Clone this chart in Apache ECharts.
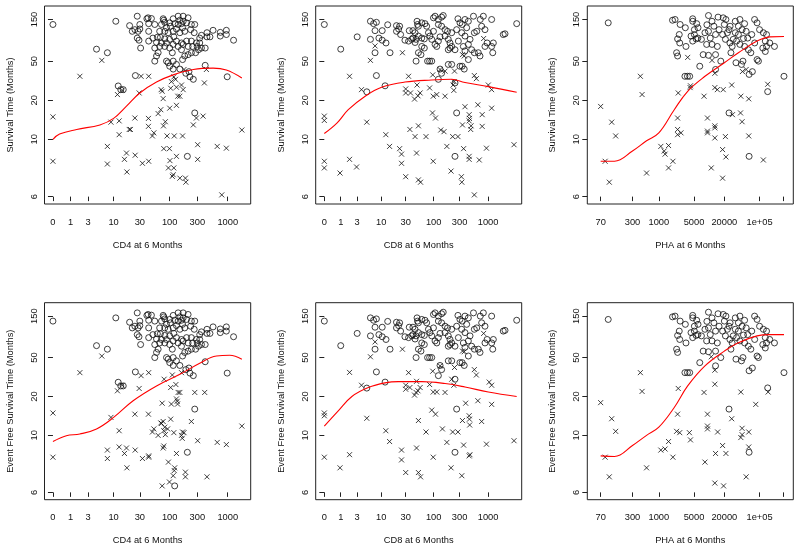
<!DOCTYPE html>
<html>
<head>
<meta charset="utf-8">
<script src="https://cdn.jsdelivr.net/npm/echarts@6/dist/echarts.min.js"></script>
<style>
  html, body { margin: 0; padding: 0; background: #fff; }
  #chart { width: 800px; height: 548px; }
</style>
</head>
<body>
<div id="chart"></div>
<script>
// tick labels
const countTicks = [0, 1, 3, 10, 30, 100, 300, 1000];
const phaTicks = [70, 300, 1000, 5000, 20000, 100000, 300000];
const phaTickLabels = ['70', '300', '1000', '5000', '20000', '1e+05', ''];
const timeTicks = [6, 10, 20, 50, 150];

// CD4 at 6 months vs survival: o = censored, x = died
const cd4Alive = [[40,153],[42,157],[48,154],[27,164],[77,153],[79,147],[115,153],[140,164],[171,164],[208,157],[150,147],[171,143],
  [30,131],[43,134],[55,131],[72,131],[82,139],[100,137],[122,134],[140,131],[160,134],[196,137],[237,131],[271,131],[167,120],[131,116],[103,125],[88,120],[19.7,127],[22,109],[30,116],
  [24.5,114],[28,109],[43,109],[67,109],[82,109],[94,105],[115,109],[150,105],[182,109],[230,114],[265,105],[353,98],[440,105],[560,112],[745,106],[948,112],[745,96],[948,100],[1260,86],[440,94],[495,94],[330,91],
  [27,91],[29,86],[43,84],[51,91],[61,93],[69,93],[82,89],[100,88],[118,94],[131,84],[160,80],[196,84],[237,84],[289,80],[330,80],[59,81],[72,80],[88,80],
  [31,70],[55,70],[67,73],[82,73],[100,70],[115,77],[140,73],[171,77],[208,73],[249,73],[299,73],[353,70],[410,70],[314,67],[280,62],[237,62],[160,67],[182,57],[208,59],[167,52],[63,62],[59,57],[111,62],
  [55,50],[88,50],[94,48],[100,44],[115,50],[131,46],[150,41],[115,41],[190,37],[215,38.5],[410,45],[4.6,68],[7.6,62],
  [12.2,27.4],[13.6,25.2],[15.1,25.2],[25,35],[224,34],[256,32],[271,15.5],[202,8.1],[980,34],[0,131],[11,143]];
const cd4Dead = [[0,14.4],[0,7.7],[5.9,51],[1.9,34.4],[7.6,9.1],[7.6,7.5],[11.8,22.6],[14.4,24.8],[8.9,13.1],[12.7,13.4],[12.7,10.7],[19.4,11.6],[20.4,11.6],[17.3,8.4],[15.9,7.85],[17.6,7.0],
  [24.5,14.1],[24.8,8.2],[29.2,23.4],[31.6,34.4],[43,34.4],[33.4,7.55],[43,7.7],[42.6,14],[42.6,12.2],[50,10.5],[53,11],[63,15.3],[70,16.5],[74,24.3],[71,25.2],[77,20.7],[78,12.3],[84,13.2],[79,8.85],
  [90,10.5],[95,7.24],[99,8.85],[101,7.75],[100,17],[104,26],[107,30.3],[111,6.77],[115,6.85],[118,7.24],[120,10.5],[131,8.1],[118,33.9],[131,26.6],[138,21.8],[150,21.8],[131,18],[126,32],[160,28],[171,25.2],
  [177,40.6],[150,6.68],[167,10.5],[187,6.68],[190,6.5],[256,12.5],[289,14.1],[304,9.3],[304,7.85],[377,14.6],[397,29.4],[430,40.6],[660,9.1],[790,6.05],[948,8.9],[1750,11.5]];
const cd4DeadCurve = [[0,10],[0.3,10.8],[1.55,11.6],[5.4,12.5],[10,14],[17.3,17.7],[30,23.4],[59,30],[115,35.6],[256,40.6],[560,42],[948,40],[1750,33]];

// CD8 at 6 months vs survival
const cd8Alive = [[0,131],[1,68],[3,94],[6,143],[8,139],[7,134],[7.5,111],[6,88],[9,91],[10.5,111],[10.5,86],[12.5,80],[13.5,130],[7.5,62],[15,62],[8,35],[12,27.5],[5,24],
  [20,127],[23,125],[22,116],[20,109],[24,100],[29,86],[34,84],[39,88],[35,111],[41,111],[45,105],[49,143],[50,131],[52,125],[60,137],[69,134],[74,125],
  [47,88],[52,96],[60,91],[67,89],[41,91],[45,81],[52,62],[58,59],[60,73],[67,70],[47,50],[77,50],[84,50],[92,50],
  [80,105],[85,96],[92,88],[99,109],[106,77],[114,73],[122,84],[131,94],[99,157],[106,164],[122,150],[140,160],[150,167],
  [122,131],[140,125],[162,114],[180,109],[162,96],[186,88],[200,80],[215,105],[131,41],[140,37],[122,32],[186,46],[215,46],
  [186,67],[200,70],[215,73],[247,67],[280,153],[305,137],[335,131],[377,150],[435,143],[405,120],[265,114],[328,105],[377,96],[467,88],
  [285,84],[352,73],[435,77],[500,67],[305,44],[335,44],[365,41],[247,29.4],[265,15.5],[247,8.1],[435,52],[377,65],
  [540,164],[560,105],[620,109],[560,62],[663,62],[712,57],[820,164],[878,114],[960,80],[878,73],[1164,73],[1250,80],[1220,62],[1900,100],[2046,102],[3350,134],[720,150],[1164,150],[763,125]];
const cd8Dead = [[0,14.6],[0,13.5],[0,7.7],[0,7.24],[0.94,6.94],[1.9,7.85],[2.9,7.3],[1.9,34.4],[3.8,25.2],[5,13.1],[6,51],[7.5,74],[12.4,10.7],[14.7,9.1],[23,8.85],[25,8.3],[25,7.55],[30,6.75],
  [26,62],[34,34.4],[30,25.6],[30,23.4],[36,11.6],[37,23.4],[44,20.5],[45,10.4],[48,8.4],[49,28],[51,22],[52,12.3],[52,6.6],[57,6.5],[56,23.4],[72,10.4],[84,26.2],[95,15.5],[98,7.7],[96,35.6],[98,21.8],
  [108,14.1],[114,22.6],[131,40.6],[162,39],[135,11.5],[155,11.2],[175,9.1],[162,21.8],[209,7.05],[224,10.4],[228,28],[235,24.8],[238,30.3],[242,39],[280,10.4],[324,6.75],[330,6.5],[339,12.5],[356,8.85],
  [377,17.5],[339,59],[365,57],[450,15],[455,14],[450,13.4],[480,11.6],[488,12.3],[450,8.1],[450,7.85],[560,6.05],[560,35],[610,32.5],[650,18.2],[690,7.8],[780,15],[780,12.2],[830,90],[935,8.9],
  [1011,28],[1164,25.2],[1164,17],[2992,9.3]];
const cd8DeadCurve = [[0,10.9],[0.7,12.9],[1.75,16.5],[4.6,21.8],[10.2,26.6],[29,30],[92,31.5],[215,32],[377,29.7],[1011,27],[3350,23.8]];

// PHA at 6 months vs survival
const phaAlive = [[99,137],[1870,147],[2100,150],[2650,131],[2545,100],[2360,89],[2600,80],[2254,62],[2360,57],[3360,120],[3460,73],[4710,153],[4710,143],[5080,114],[5650,134],
  [4360,96],[5080,100],[5970,91],[7010,88],[4710,84],[5510,89],[9680,167],[11380,143],[12400,125],[8240,105],[9680,109],[10500,91],[13370,100],[8900,77],[11380,77],[14500,73],
  [6500,44],[7600,59],[9680,58],[13370,59],[13370,40.6],[17000,50],[15000,160],[19000,157],[21480,150],[20000,131],[15700,114],[18450,100],[23000,105],[24770,114],
  [21000,88],[25800,80],[28570,73],[27000,62],[32950,143],[38000,125],[40700,150],[50470,134],[54200,109],[32950,105],[38000,100],[45000,114],[58210,91],
  [34000,48],[43750,46],[46800,50],[40700,77],[50470,73],[60000,67],[67140,62],[62000,36],[72000,38.5],[89190,52],[95000,50],
  [79700,150],[89190,137],[100000,114],[119000,105],[137600,100],[130000,84],[137600,73],[159200,80],[197700,73],[116000,70],[130000,64],
  [145000,24.1],[305500,34.4],[62000,8.1],[24770,15.5],[3300,34.4],[3700,34.4],[4100,34.4],
  [30000,88],[26000,125],[35000,84],[48000,90],[70000,100],[80000,80],[9000,130],[6000,120]];
const phaDead = [[70,17.6],[86,7.7],[116,13.1],[139,10.5],[104,6.5],[430,34.4],[465,22.6],[571,6.94],[1096,9.1],[1278,8.6],[1330,8.3],[1560,9.2],[1560,7.24],[1905,7.7],
  [2360,14.1],[2360,11.6],[2360,10.7],[2754,11],[2430,23.4],[3740,55],[4180,26.4],[4250,27.5],[7900,21.8],[9250,14.1],[9250,11.3],[9250,11],[11000,7.24],[11380,51],
  [12950,37],[12950,26.4],[14500,25.2],[12950,11.9],[12950,12.3],[12950,10.2],[18450,8.75],[18450,6.68],[21000,10.4],[21480,8.05],[19000,25.2],[28000,28],
  [42500,21.8],[41900,15.5],[45000,13.2],[45700,38.6],[54200,40.6],[61000,20.6],[61000,10.5],[119000,7.8],[145000,28.5],[29000,15]];
const phaDeadCurve = [[70,7.7],[132,7.7],[300,8.6],[571,9.8],[1000,11],[2025,16.5],[3740,24.3],[8240,34.4],[20000,48],[38000,62],[89190,84],[159200,94],[305500,95]];

// event free survival: censored points are shared with the survival panels, plus
const cd4EfsAliveExtra = [[122,6.2]];
const cd4EfsEvent = [[0,14.4],[0,7.7],[5.9,52],[1.9,34.4],[7.6,8.3],[7.6,7.6],[11.8,22.6],[14.4,25.6],[8.9,13.3],[12.7,10.7],[12.7,8.6],[17.3,8.5],[15.9,8],[17.6,7.0],[24.5,14.1],[24.8,8.3],
  [29.2,23.8],[31.6,32],[43,34.4],[33.4,7.6],[43,7.8],[43,7.7],[42.6,14.1],[50,10.5],[53,11],[63,10],[70,12.1],[74,17.4],[77,12.4],[80,29.4],[72,12],[82,11.3],[79,10.7],[84,10.1],[79,8.7],[77,8.5],
  [92,11],[95,7.35],[99,6.34],[74,6.2],[104,12.9],[107,17.1],[104,24.3],[111,32.5],[118,10.4],[131,8],[120,6.85],[115,6.6],[122,7],[128,26],[131,19],[135,18.1],[140,21.8],[150,21.8],[137,17.1],
  [160,10],[167,10.5],[165,9.6],[177,10.4],[160,34.4],[187,6.77],[187,6.55],[237,12.4],[271,21.8],[304,9.3],[402,21.8],[440,6.55],[660,9.1],[948,8.85],[1750,11.5]];
const cd4EfsCurve = [[0,9.2],[0.7,9.95],[1.9,10.2],[4.6,11],[10,13.3],[22.8,18.3],[59,25.2],[150,33],[330,43.4],[640,52],[1082,53],[1750,48]];

const cd8EfsEvent = [[0,14.4],[0,13.7],[0,7.7],[0.94,7.0],[1.9,7.9],[1.9,34.6],[3.8,25.6],[5,13.1],[6,51],[7.5,75],[12.4,10.7],[14.7,9.2],[25,8.3],[25,7.5],[30,6.75],[26,62],[34,34.4],
  [30,25.6],[30,23.4],[36,24.3],[44,20.6],[47,21.8],[51,22.6],[48,8.5],[52,12.6],[52,6.75],[57,6.55],[48,28],[56,24.3],[72,10.5],[84,26],[92,15.2],[98,7.7],[96,35.6],[98,22],[108,14.1],[114,22],
  [131,40.6],[145,11],[175,9.1],[162,21.8],[209,7],[224,10.5],[242,39],[215,29.4],[235,25.6],[280,10.5],[330,6.6],[339,12.6],[356,8.8],[388,17.4],[339,59],[365,58],[450,13.7],[455,12.9],
  [450,7.8],[465,7.9],[460,11.7],[560,37],[610,32.5],[650,18.3],[763,12.4],[935,8.9],[1050,27.5],[1164,25.6],[1164,17],[2992,9.3],[830,94]];
const cd8EfsCurve = [[0,11.5],[0.8,15],[2.2,20],[5.4,24.3],[11.9,27],[21.7,27.8],[60,27.8],[162,26.6],[377,24.6],[1011,22],[3350,20]];

const phaEfsEvent = [[70,17.6],[86,7.7],[116,13],[139,10.6],[104,6.55],[430,34.4],[465,22.3],[571,7],[1096,8.3],[1330,8.4],[1560,9.2],[1905,7.7],[2360,14.1],[2254,10.6],[2600,10.4],
  [4040,10.4],[4250,9.4],[2430,23.8],[7900,21.8],[8240,7.35],[9250,14.1],[9250,11.5],[9250,11],[11000,51],[12950,36.5],[12950,26.2],[13370,8],[12950,6.3],[14700,10.5],[18450,8.75],
  [19300,6.2],[21480,8],[28000,13],[42500,22],[45000,11.1],[45000,10.1],[42500,9.7],[54200,6.55],[61000,10.5],[61000,8.6],[84000,17],[148000,22]];
const phaEfsCurve = [[70,7.8],[132,7.75],[300,8.75],[571,10],[1000,11.3],[2025,16],[3740,25.2],[8240,40.6],[20000,59],[38000,73.5],[89190,88],[159200,91],[305500,91]];

// transforms used by the original plot
const logCount = v => Math.log10(v + 1);
const logPha = v => Math.log10(v);
const logTime = t => Math.log10(t - 5);

const FONT = 'Liberation Sans';
const cols = [
  { left: 44.5, width: 206.2, xMin: -0.145, xMax: 3.395 },
  { left: 315.7, width: 206, xMin: -0.158, xMax: 3.617 },
  { left: 587.3, width: 206, xMin: 1.58, xMax: 5.67 }
];
const rows = [{ top: 6, height: 198 }, { top: 302.7, height: 197 }];

const panels = [
  { r: 0, c: 0, xf: logCount, ticks: countTicks, labels: countTicks.map(String), xName: 'CD4 at 6 Months', yName: 'Survival Time (Months)', o: cd4Alive, x: cd4Dead, curve: cd4DeadCurve },
  { r: 0, c: 1, xf: logCount, ticks: countTicks, labels: countTicks.map(String), xName: 'CD8 at 6 Months', yName: 'Survival Time (Months)', o: cd8Alive, x: cd8Dead, curve: cd8DeadCurve },
  { r: 0, c: 2, xf: logPha, ticks: phaTicks, labels: phaTickLabels, xName: 'PHA at 6 Months', yName: 'Survival Time (Months)', o: phaAlive, x: phaDead, curve: phaDeadCurve },
  { r: 1, c: 0, xf: logCount, ticks: countTicks, labels: countTicks.map(String), xName: 'CD4 at 6 Months', yName: 'Event Free Survival Time (Months)', o: cd4Alive.concat(cd4EfsAliveExtra), x: cd4EfsEvent, curve: cd4EfsCurve },
  { r: 1, c: 1, xf: logCount, ticks: countTicks, labels: countTicks.map(String), xName: 'CD8 at 6 Months', yName: 'Event Free Survival Time (Months)', o: cd8Alive, x: cd8EfsEvent, curve: cd8EfsCurve },
  { r: 1, c: 2, xf: logPha, ticks: phaTicks, labels: phaTickLabels, xName: 'PHA at 6 Months', yName: 'Event Free Survival Time (Months)', o: phaAlive, x: phaEfsEvent, curve: phaEfsCurve }
];

// label lookup for custom tick positions
function labeller(vals, labels) {
  return v => {
    const i = vals.findIndex(u => Math.abs(u - v) < 1e-9);
    return i < 0 ? '' : labels[i];
  };
}

const yVals = timeTicks.map(logTime);
const textStyle = { fontFamily: FONT, fontSize: 9.3, color: '#111' };

const grid = [], xAxis = [], yAxis = [], series = [];
panels.forEach((p, i) => {
  const col = cols[p.c], row = rows[p.r];
  grid.push({ left: col.left, width: col.width, top: row.top, height: row.height,
    show: true, borderColor: '#222', borderWidth: 1, backgroundColor: 'transparent' });

  const xVals = p.ticks.map(p.xf);
  xAxis.push({
    gridIndex: i, type: 'value', min: col.xMin, max: col.xMax, offset: 1.5,
    axisLine: { show: false }, splitLine: { show: false },
    axisTick: { show: true, customValues: xVals, length: 4.5, lineStyle: { color: '#222', width: 1 } },
    axisLabel: { customValues: xVals, formatter: labeller(xVals, p.labels), margin: 12, ...textStyle },
    name: p.xName, nameLocation: 'middle', nameGap: 35, nameTextStyle: { ...textStyle }
  });
  yAxis.push({
    gridIndex: i, type: 'value', min: -0.09, max: 2.326,
    axisLine: { show: false }, splitLine: { show: false },
    axisTick: { show: true, customValues: yVals, length: 5, lineStyle: { color: '#222', width: 1 } },
    axisLabel: { customValues: yVals, formatter: labeller(yVals, timeTicks.map(String)), rotate: 90, margin: 6, ...textStyle },
    name: p.yName, nameLocation: 'middle', nameGap: 30, nameTextStyle: { ...textStyle }
  });

  series.push({
    type: 'scatter', xAxisIndex: i, yAxisIndex: i, symbol: 'circle', symbolSize: 6,
    itemStyle: { color: 'transparent', borderColor: '#111', borderWidth: 1 },
    data: p.o.map(d => [p.xf(d[0]), logTime(d[1])])
  });
  series.push({
    type: 'scatter', xAxisIndex: i, yAxisIndex: i, symbol: 'path://M0,0L10,10M10,0L0,10', symbolSize: 5,
    itemStyle: { color: 'transparent', borderColor: '#111', borderWidth: 1 },
    data: p.x.map(d => [p.xf(d[0]), logTime(d[1])])
  });
  series.push({
    type: 'line', xAxisIndex: i, yAxisIndex: i, smooth: 0.4, showSymbol: false,
    lineStyle: { color: '#ff0000', width: 1.1 },
    data: p.curve.map(d => [p.xf(d[0]), logTime(d[1])])
  });
});

const chart = echarts.init(document.getElementById('chart'), null, { renderer: 'canvas' });
chart.setOption({
  backgroundColor: '#fff',
  animation: false,
  grid, xAxis, yAxis, series
});
window.addEventListener('resize', () => chart.resize());
</script>
</body>
</html>
